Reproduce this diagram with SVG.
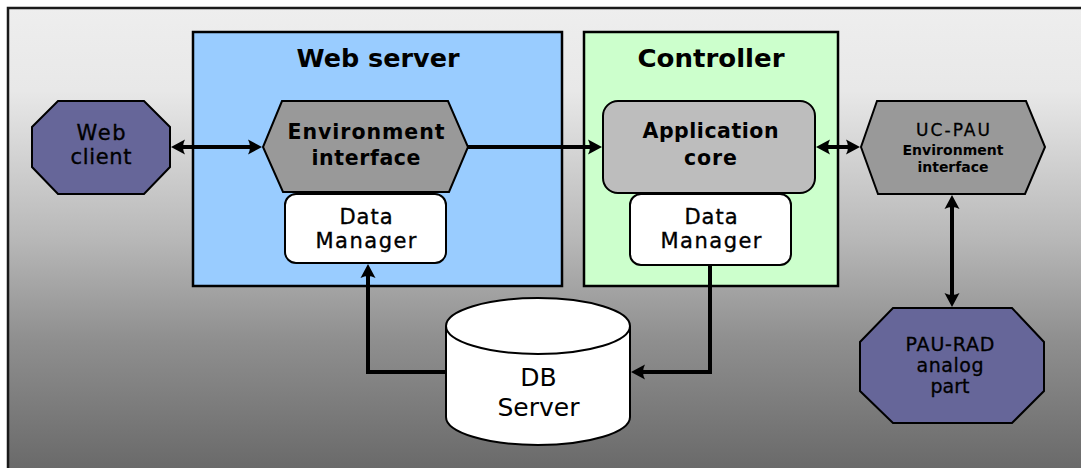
<svg xmlns="http://www.w3.org/2000/svg" width="1081" height="468" viewBox="0 0 1081 468">
  <defs>
    <linearGradient id="bgGrad" gradientUnits="userSpaceOnUse" x1="0" y1="8" x2="0" y2="468">
      <stop offset="0" stop-color="#eeeeee"/>
      <stop offset="0.18" stop-color="#e8e8e8"/>
      <stop offset="0.5" stop-color="#b8b8b8"/>
      <stop offset="0.72" stop-color="#8f8f8f"/>
      <stop offset="1" stop-color="#6a6a6a"/>
    </linearGradient>
    <marker id="arrow" markerUnits="userSpaceOnUse" viewBox="0 -8 15 16" markerWidth="15" markerHeight="16" refX="4" refY="0" orient="auto-start-reverse">
      <path d="M14,0 L0,-7.5 Q4,0 0,7.5 Z" fill="#000"/>
    </marker>
    <style>
      .frame { fill: url(#bgGrad); stroke: #1a1a1a; stroke-width: 2.5; }
      .box { stroke: #000; stroke-width: 2.5; }
      .shape { stroke: #000; stroke-width: 2; }
      .web { fill: #99ccff; }
      .ctrl { fill: #ccffcc; }
      .client { fill: #666699; }
      .iface { fill: #999999; }
      .core { fill: #bdbdbd; }
      .store { fill: #ffffff; }
      .conn { fill: none; stroke: #000; stroke-width: 4; }
      text { font-family: "DejaVu Sans", "Liberation Sans", sans-serif; fill: #000; text-anchor: middle; }
      .title { font-size: 25px; font-weight: bold; }
      .bold { font-size: 20.5px; font-weight: bold; }
      .label { font-size: 21px; stroke: #000; stroke-width: 0.35px; }
      .small { font-size: 17px; stroke: #000; stroke-width: 0.3px; }
      .tiny { font-size: 14px; font-weight: bold; }
      .pau { font-size: 19px; stroke: #000; stroke-width: 0.3px; }
      .big { font-size: 25px; }
    </style>
  </defs>

  <!-- background frame -->
  <rect class="frame" x="8" y="8" width="1090" height="480"/>

  <!-- containers -->
  <g id="web-server">
    <rect class="box web" x="193" y="32" width="369" height="254"/>
    <text class="title" x="378" y="66.5" textLength="163" lengthAdjust="spacingAndGlyphs">Web server</text>
  </g>
  <g id="controller">
    <rect class="box ctrl" x="584" y="32" width="254" height="254"/>
    <text class="title" x="711" y="66.5" textLength="147" lengthAdjust="spacingAndGlyphs">Controller</text>
  </g>

  <!-- connectors -->
  <g id="connectors">
    <line class="conn" x1="181" y1="147" x2="252" y2="147" marker-start="url(#arrow)" marker-end="url(#arrow)"/>
    <line class="conn" x1="468" y1="147" x2="592" y2="147" marker-end="url(#arrow)"/>
    <line class="conn" x1="826" y1="147" x2="850" y2="147" marker-start="url(#arrow)" marker-end="url(#arrow)"/>
    <line class="conn" x1="952" y1="205" x2="952" y2="297" marker-start="url(#arrow)" marker-end="url(#arrow)"/>
    <path class="conn" d="M446,372 H368 V274" marker-end="url(#arrow)"/>
    <path class="conn" d="M710,265 V372 H641" marker-end="url(#arrow)"/>
  </g>

  <g id="web-client">
    <polygon class="shape client" points="58,101 144,101 170,127 170,167 144,194 58,194 32,167 32,127"/>
    <text class="label" x="101" y="140" textLength="49" lengthAdjust="spacing">Web</text>
    <text class="label" x="101" y="164" textLength="61" lengthAdjust="spacing">client</text>
  </g>

  <g id="environment-interface">
    <polygon class="shape iface" points="282,101 448,101 468,147 449,192 283,192 263,147"/>
    <text class="bold" x="366" y="139" textLength="157" lengthAdjust="spacing">Environment</text>
    <text class="bold" x="366" y="165" textLength="109" lengthAdjust="spacing">interface</text>
  </g>

  <g id="web-data-manager">
    <rect class="shape store" x="285" y="194" width="161" height="69" rx="11"/>
    <text class="label" x="366" y="224" textLength="53" lengthAdjust="spacing">Data</text>
    <text class="label" x="366" y="248" textLength="101" lengthAdjust="spacing">Manager</text>
  </g>

  <g id="application-core">
    <rect class="shape core" x="603" y="101" width="212" height="92" rx="15"/>
    <text class="bold" x="710.5" y="138" textLength="136" lengthAdjust="spacing">Application</text>
    <text class="bold" x="710.5" y="165" textLength="53" lengthAdjust="spacing">core</text>
  </g>

  <g id="controller-data-manager">
    <rect class="shape store" x="630" y="194" width="161" height="71" rx="11"/>
    <text class="label" x="711" y="224" textLength="53" lengthAdjust="spacing">Data</text>
    <text class="label" x="711" y="248" textLength="101" lengthAdjust="spacing">Manager</text>
  </g>

  <g id="uc-pau">
    <polygon class="shape iface" points="877,101 1026,101 1045,147 1025,194 878,194 861,147"/>
    <text class="small" x="953" y="135.5" textLength="74" lengthAdjust="spacing">UC-PAU</text>
    <text class="tiny" x="953" y="155" textLength="101" lengthAdjust="spacing">Environment</text>
    <text class="tiny" x="953" y="172" textLength="71" lengthAdjust="spacing">interface</text>
  </g>

  <g id="pau-rad">
    <polygon class="shape client" points="893,308 1012,308 1044,342 1044,391 1012,423 893,423 860,391 860,342"/>
    <text class="pau" x="950" y="350.5" textLength="89" lengthAdjust="spacing">PAU-RAD</text>
    <text class="pau" x="950" y="371.5" textLength="67" lengthAdjust="spacing">analog</text>
    <text class="pau" x="950" y="392.5" textLength="39" lengthAdjust="spacing">part</text>
  </g>

  <g id="db-server">
    <path class="shape store" d="M446,326 A92,28 0 0 1 630,326 V417 A92,28 0 0 1 446,417 Z"/>
    <path class="shape" fill="none" d="M446,326 A92,28 0 0 0 630,326"/>
    <text class="big" x="538.5" y="385.5">DB</text>
    <text class="big" x="538.5" y="415.5">Server</text>
  </g>
</svg>
